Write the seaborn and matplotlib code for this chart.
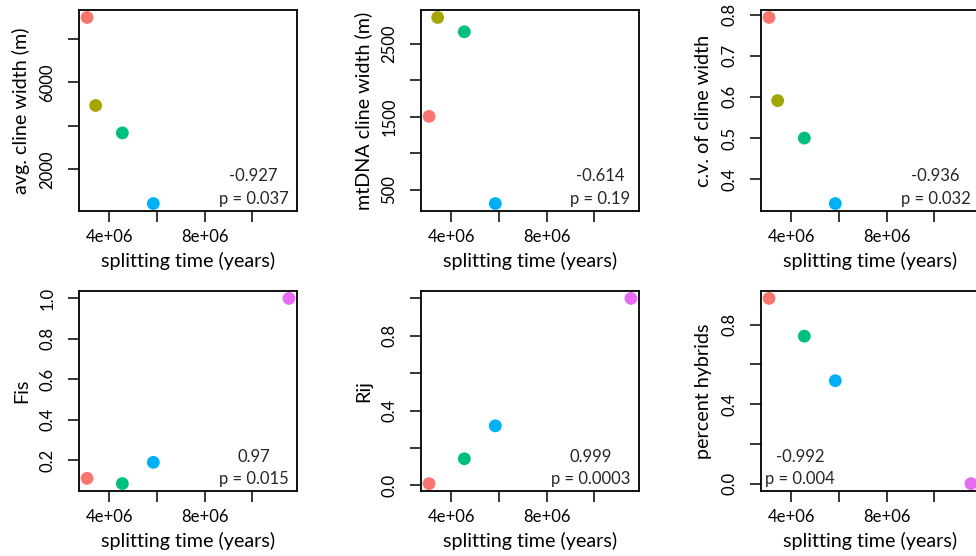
import numpy as np
import pandas as pd
import matplotlib
matplotlib.use("Agg")
import matplotlib.pyplot as plt
import seaborn as sns

# ---------------- data ----------------
groups = ["A", "B", "C", "D", "E"]
colors = ["#F8766D", "#A3A500", "#00BF7D", "#00B0F6", "#E76BF3"]
split_time = [3.07e6, 3.43e6, 4.55e6, 5.85e6, 11.54e6]

avg_cline = [8984, 4938, 3677, 430, np.nan]
mtdna_cline = [1504, 2863, 2666, 307, np.nan]
cv_cline = [0.793, 0.591, 0.500, 0.341, np.nan]
fis = [0.111, np.nan, 0.085, 0.190, 1.0]
rij = [0.009, np.nan, 0.142, 0.318, 1.0]
pct_hybrids = [0.932, np.nan, 0.742, 0.518, 0.0]

ylabels = ["avg. cline width (m)", "mtDNA cline width (m)", "c.v. of cline width",
           "Fis", "Rij", "percent hybrids"]
r_values = ["-0.927", "-0.614", "-0.936", "0.97", "0.999", "-0.992"]
p_values = ["p = 0.037", "p = 0.19", "p = 0.032", "p = 0.015", "p = 0.0003", "p = 0.004"]
text_corner = ["bottomright", "bottomright", "bottomright", "bottomright", "bottomright", "bottomleft"]

x_ticks = [4e6, 6e6, 8e6, 1e7]
x_ticklabels = ["4e+06", "", "8e+06", ""]
y_ticks = [
    [2000, 4000, 6000, 8000],
    [500, 1000, 1500, 2000, 2500],
    [0.4, 0.5, 0.6, 0.7, 0.8],
    [0.2, 0.4, 0.6, 0.8, 1.0],
    [0.0, 0.2, 0.4, 0.6, 0.8, 1.0],
    [0.0, 0.2, 0.4, 0.6, 0.8],
]
y_ticklabels = [
    ["2000", "", "6000", ""],
    ["500", "", "1500", "", "2500"],
    ["0.4", "0.5", "0.6", "0.7", "0.8"],
    ["0.2", "0.4", "0.6", "0.8", "1.0"],
    ["0.0", "", "0.4", "", "0.8", ""],
    ["0.0", "", "0.4", "", "0.8"],
]
series = [avg_cline, mtdna_cline, cv_cline, fis, rij, pct_hybrids]

# ---------------- style ----------------
sns.set_style("white")
plt.rcParams["font.family"] = ["Lato", "DejaVu Sans"]
FS = 12
LFS = 14.2

fig = plt.figure(figsize=(9.76, 5.56), dpi=100)
W, H = 976.0, 556.0
col_left = [79, 421, 761]
row_top = [10, 291]
row_bot = [211, 491]
ax_w = 218


def rpad(vals):
    v = np.asarray(vals, dtype=float)
    v = v[~np.isnan(v)]
    lo, hi = v.min(), v.max()
    d = (hi - lo) * 0.04
    return lo - d, hi + d


xlim = rpad(split_time)

for i in range(6):
    r, c = divmod(i, 3)
    left = col_left[c] / W
    bottom = 1 - row_bot[r] / H
    height = (row_bot[r] - row_top[r]) / H
    ax = fig.add_axes([left, bottom, ax_w / W, height])
    df = pd.DataFrame({"t": split_time, "y": series[i], "g": groups})
    df = df.dropna()
    sns.scatterplot(data=df, x="t", y="y", hue="g", palette=dict(zip(groups, colors)),
                    hue_order=groups, s=85, edgecolor="none", linewidth=0,
                    legend=False, ax=ax, clip_on=False, zorder=3)
    ax.set_xlim(*xlim)
    ax.set_ylim(*rpad(series[i]))
    ax.set_xticks(x_ticks)
    ax.set_xticklabels(x_ticklabels)
    ax.set_yticks(y_ticks[i])
    ax.set_yticklabels(y_ticklabels[i])
    for lab in ax.get_yticklabels():
        lab.set_rotation(90)
        lab.set_va("center")
    ax.tick_params(axis="both", which="major", direction="out", length=8, width=1.1,
                   color="black", labelsize=FS, labelcolor="black",
                   bottom=True, left=True, top=False, right=False)
    ax.tick_params(axis="y", pad=9)
    ax.tick_params(axis="x", pad=5)
    for sp in ax.spines.values():
        sp.set_visible(True)
        sp.set_color("black")
        sp.set_linewidth(1.3)
    ax.set_xlabel("splitting time (years)", fontsize=LFS, color="black")
    ax.set_ylabel(ylabels[i], fontsize=LFS, color="black")
    ax.xaxis.set_label_coords(0.5, -0.205)
    ax.yaxis.set_label_coords(-0.225, 0.5)
    txt = r_values[i] + "\n" + p_values[i]
    if text_corner[i] == "bottomright":
        ax.text(0.96, 0.02, txt, transform=ax.transAxes, ha="right", va="bottom",
                multialignment="center", fontsize=FS, linespacing=1.5)
    else:
        ax.text(0.02, 0.02, txt, transform=ax.transAxes, ha="left", va="bottom",
                multialignment="center", fontsize=FS, linespacing=1.5)

fig.savefig("out.png", dpi=100)
